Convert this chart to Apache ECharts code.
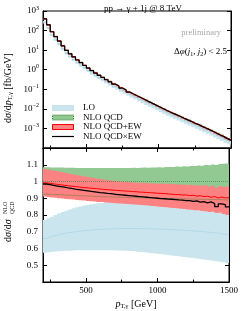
<!DOCTYPE html>
<html><head><meta charset="utf-8">
<script src="https://cdn.jsdelivr.net/npm/echarts@6/dist/echarts.min.js"></script>
<style>html,body{margin:0;padding:0;background:#fff}#c{width:241px;height:311px}</style>
</head><body><div id="c"></div>
<script>
// ---- data ----
const binEdges = [200,225,250,275,300,325,350,375,400,425,450,475,500,525,550,575,600,625,650,675,700,725,750,775,800,825,850,875,900,925,950,975,1000,1025,1050,1075,1100,1125,1150,1175,1200,1225,1250,1275,1300,1325,1350,1375,1400,1425,1450,1475,1500];
const nloQcd = [400,200,89,50,30,17,10,6.8,4.7,3.3,2.4,1.74,1.29,0.95,0.72,0.55,0.43,0.33,0.26,0.20,0.16,0.126,0.100,0.079,0.063,0.051,0.042,0.034,0.0275,0.0224,0.0182,0.0148,0.0120,0.0098,0.0079,0.0066,0.0055,0.0046,0.0037,0.0031,0.0026,0.0021,0.00178,0.00145,0.0012,0.00100,0.00081,0.00066,0.00054,0.00044,0.00035,0.00029];
// ratios to NLO QCD
const loMid = [.660,.668,.675,.681,.686,.690,.694,.697,.700,.703,.705,.707,.709,.711,.713,.714,.715,.716,.717,.718,.718,.719,.719,.720,.720,.719,.719,.718,.718,.717,.716,.716,.715,.714,.713,.712,.711,.710,.709,.708,.706,.705,.703,.702,.700,.698,.696,.694,.691,.688,.685,.682];
const loLow = [.575,.578,.580,.582,.584,.585,.586,.587,.588,.589,.589,.590,.590,.590,.590,.590,.590,.590,.589,.589,.588,.588,.587,.586,.585,.583,.581,.579,.577,.575,.572,.570,.567,.565,.562,.560,.557,.555,.552,.550,.547,.545,.542,.539,.536,.533,.530,.527,.524,.521,.518,.514];
const loHigh = [.770,.780,.790,.800,.810,.818,.826,.833,.840,.846,.851,.856,.860,.864,.867,.870,.872,.874,.876,.878,.879,.880,.881,.881,.882,.882,.882,.881,.881,.880,.879,.878,.876,.874,.872,.870,.868,.865,.862,.859,.856,.853,.850,.846,.842,.838,.834,.830,.826,.821,.816,.811];
const qcdHigh = [1.085,1.085,1.084,1.084,1.083,1.083,1.082,1.082,1.082,1.081,1.081,1.081,1.080,1.080,1.080,1.080,1.080,1.080,1.080,1.080,1.080,1.081,1.080,1.081,1.081,1.082,1.081,1.082,1.083,1.082,1.084,1.083,1.085,1.084,1.086,1.087,1.086,1.089,1.088,1.091,1.090,1.093,1.092,1.096,1.094,1.098,1.097,1.101,1.099,1.104,1.106,1.108];
const qcdLow = [.925,.924,.923,.922,.921,.920,.919,.918,.917,.916,.915,.914,.913,.912,.911,.910,.909,.909,.908,.907,.906,.906,.905,.904,.904,.903,.903,.902,.902,.901,.901,.900,.900,.899,.899,.898,.898,.897,.897,.896,.896,.895,.895,.894,.894,.893,.893,.892,.892,.891,.890,.889];
const ewHigh = [1.075,1.071,1.067,1.063,1.059,1.055,1.051,1.047,1.043,1.039,1.035,1.031,1.027,1.024,1.020,1.017,1.014,1.011,1.008,1.005,1.003,1.000,.998,.997,.995,.994,.993,.992,.991,.990,.989,.988,.987,.988,.985,.986,.983,.984,.981,.982,.978,.980,.976,.978,.974,.977,.970,.975,.962,.972,.968,.970];
const ewLow = [.910,.908,.905,.903,.900,.898,.896,.894,.892,.890,.888,.886,.884,.882,.880,.878,.877,.875,.873,.872,.870,.869,.867,.866,.864,.863,.861,.860,.858,.856,.854,.852,.850,.848,.846,.844,.842,.840,.838,.836,.833,.832,.829,.828,.824,.823,.818,.820,.812,.814,.806,.800];
const ewMid = [.992,.989,.986,.983,.980,.977,.975,.972,.970,.968,.965,.963,.961,.959,.957,.955,.953,.951,.950,.948,.946,.945,.943,.942,.940,.939,.937,.936,.934,.933,.932,.930,.929,.928,.926,.924,.922,.922,.919,.920,.916,.918,.913,.915,.910,.912,.906,.910,.902,.907,.902,.903];
const ewMult = [.985,.981,.977,.973,.969,.966,.962,.959,.955,.952,.949,.946,.943,.940,.937,.934,.932,.929,.927,.924,.922,.920,.918,.916,.914,.912,.910,.908,.906,.904,.902,.900,.898,.897,.895,.894,.892,.890,.889,.886,.886,.881,.884,.877,.880,.872,.878,.868,.850,.866,.862,.848];
const xMajorTicks = [500,1000,1500];
const xMinorTicks = [250,750,1250];
const legendNames = ['LO','NLO QCD','NLO QCD+EW','NLO QCD×EW'];

// ---- styling ----
const F = 'Liberation Serif';
const C = {lo:'#cbe5ef', loEdge:'#a6d3e3', loLine:'#8cc6da', qcd:'#92c992', qcdLine:'#2f7f2f', ew:'#ff8282', ewLine:'#ff0000', mult:'#000000'};

function stepData(vals){ const d = vals.map((v,i)=>[binEdges[i], v]); d.push([binEdges[vals.length], vals[vals.length-1]]); return d; }
function absOf(r){ return r.map((v,i)=>v*nloQcd[i]); }
function base(xi, yi){ return {type:'line', step:'end', symbol:'none', showSymbol:false, silent:true, animation:false, xAxisIndex:xi, yAxisIndex:yi}; }
function band(lo, hi, color, xi, yi){
  return {type:'custom', xAxisIndex:xi, yAxisIndex:yi, silent:true, animation:false, clip:true,
    encode:{x:[0,1], y:[2,3]},
    data: lo.map((v,i)=>[binEdges[i], binEdges[i+1], v, hi[i]]),
    renderItem: function(params, api){
      if (params.dataIndex !== 0) return null;
      const pts = [];
      for (let i=0;i<lo.length;i++){ pts.push(api.coord([binEdges[i], hi[i]])); pts.push(api.coord([binEdges[i+1], hi[i]])); }
      for (let i=lo.length-1;i>=0;i--){ pts.push(api.coord([binEdges[i+1], lo[i]])); pts.push(api.coord([binEdges[i], lo[i]])); }
      return {type:'polygon', shape:{points:pts}, style:{fill:color, stroke:null}};
    }
  };
}
function line(vals, color, width, type, xi, yi, op){
  return Object.assign(base(xi,yi), {data:stepData(vals), lineStyle:{color:color, width:width, type:type||'solid', opacity:op==null?1:op}});
}
const ones = nloQcd.map(v=>v/v);

const series = [
  band(absOf(loLow), absOf(loHigh), C.lo, 0, 0),
  line(absOf(loMid), C.loLine, 0.8, 'dotted', 0, 0),
  band(absOf(qcdLow), absOf(qcdHigh), C.qcd, 0, 0),
  band(absOf(ewLow), absOf(ewHigh), C.ew, 0, 0),
  line(absOf(ewMid), C.ewLine, 1, 'solid', 0, 0),
  line(absOf(ewMult), C.mult, 1.2, 'solid', 0, 0),
  band(loLow, loHigh, C.lo, 2, 2),
  line(loMid, C.loLine, 0.8, 'dotted', 2, 2),
  band(qcdLow, qcdHigh, C.qcd, 2, 2),
  band(ewLow, ewHigh, C.ew, 2, 2),
  line(ones, C.qcdLine, 1, 'dotted', 2, 2, 0.6),
  line(qcdLow, C.qcdLine, 0.9, 'solid', 2, 2, 0.45),
  line(ewMid, C.ewLine, 1, 'solid', 2, 2),
  line(ewMult, C.mult, 1.3, 'solid', 2, 2)
];

const tickStyle = {color:'#000', width:1};
function xAx(grid, pos, vals, len, labels){
  return {type:'value', gridIndex:grid, position:pos, min:200, max:1500,
    axisLine:{show:true, onZero:false, lineStyle:{color:'#000', width:1}},
    axisTick:{show:true, inside:true, length:len, customValues:vals, lineStyle:tickStyle},
    axisLabel:{show:!!labels, customValues:vals, fontFamily:F, fontSize:9, color:'#000', margin:4, formatter:function(v){return String(v);}},
    splitLine:{show:false}};
}
const supRich = {s:{fontSize:6, fontFamily:F, color:'#000', padding:[0,0,6,0]}, b:{fontSize:9, fontFamily:F, color:'#000'}};
function logLabel(v){ const n = Math.round(Math.log10(v)); if (n <= -4) return ''; return '{b|10}{s|' + (n<0 ? '−'+(-n) : n) + '}'; }
function ratioLabel(v){ if (v < 0.45 || v > 1.15) return ''; return Math.abs(v-1)<1e-9 ? '1' : v.toFixed(1); }

const xAxes = [
  xAx(0,'bottom',xMajorTicks,4,false), xAx(0,'bottom',xMinorTicks,2.5,false),
  Object.assign(xAx(1,'bottom',xMajorTicks,4,true), {name:'{i|p}{s|T,γ} [GeV]', nameLocation:'middle', nameGap:16,
     nameTextStyle:{fontFamily:F, fontSize:10, color:'#000', rich:{i:{fontFamily:F, fontSize:10, fontStyle:'italic', color:'#000'}, s:{fontFamily:F, fontSize:6.5, color:'#000', padding:[5,0,0,0]}}}}),
  xAx(1,'bottom',xMinorTicks,2.5,false),
  xAx(1,'top',xMajorTicks,4,false), xAx(1,'top',xMinorTicks,2.5,false)
];
const yAxes = [
  {type:'log', logBase:10, gridIndex:0, position:'left', min:1e-4, max:1e3,
   axisLine:{show:true, lineStyle:{color:'#000'}}, axisTick:{show:true, inside:true, length:4, lineStyle:tickStyle},
   axisLabel:{fontFamily:F, fontSize:9, color:'#000', margin:4, formatter:logLabel, rich:supRich}, splitLine:{show:false}, minorTick:{show:false}},
  {type:'log', logBase:10, gridIndex:0, position:'right', min:1e-4, max:1e3,
   axisLine:{show:true, lineStyle:{color:'#000'}}, axisTick:{show:true, inside:true, length:4, lineStyle:tickStyle},
   axisLabel:{show:false}, splitLine:{show:false}},
  {type:'value', gridIndex:1, position:'left', min:0.4, max:1.2, interval:0.1,
   axisLine:{show:true, lineStyle:{color:'#000'}}, axisTick:{show:true, inside:true, length:4, lineStyle:tickStyle},
   axisLabel:{fontFamily:F, fontSize:9, color:'#000', margin:5, formatter:ratioLabel}, splitLine:{show:false}},
  {type:'value', gridIndex:1, position:'right', min:0.4, max:1.2, interval:0.1,
   axisLine:{show:true, lineStyle:{color:'#000'}}, axisTick:{show:true, inside:true, length:4, lineStyle:tickStyle},
   axisLabel:{show:false}, splitLine:{show:false}}
];

// legend (drawn as graphic)
const legY = [108, 117.5, 127, 136.5];
const legSw = [
  {fill:C.lo, stroke:C.loEdge, dash:[1,1]},
  {fill:C.qcd, stroke:C.qcdLine, dash:[1,1]},
  {fill:C.ew, stroke:'#ff0000', dash:null},
  null
];
const legendEls = [];
legendNames.forEach((n,i)=>{
  const y = legY[i];
  if (legSw[i]) legendEls.push({type:'rect', shape:{x:52.5, y:y-2.5, width:21, height:5}, style:{fill:legSw[i].fill, stroke:legSw[i].stroke, lineWidth:1, lineDash:legSw[i].dash}});
  else legendEls.push({type:'line', shape:{x1:52, y1:y, x2:74, y2:y}, style:{stroke:'#000', lineWidth:1.2}});
  legendEls.push({type:'text', x:83, y:y, style:{text:n, fontFamily:F, fontSize:9, fill:'#000', verticalAlign:'middle', align:'left'}});
});

const chart = echarts.init(document.getElementById('c'), null, {renderer:'canvas'});
chart.setOption({
  animation:false,
  backgroundColor:'#fff',
  title:{text:'pp → γ + 1j @ 8 TeV', left:138, top:-1, textAlign:'center', textStyle:{fontFamily:F, fontSize:9, fontWeight:'normal', color:'#000'}},
  grid:[{left:43, right:10, top:11, height:137, show:true, borderColor:'#000', borderWidth:1, backgroundColor:'transparent'},
        {left:43, right:10, top:148, height:135, show:true, borderColor:'#000', borderWidth:1, backgroundColor:'transparent'}],
  xAxis:xAxes, yAxis:yAxes, series:series,
  graphic:[
    {type:'text', x:221, y:33, z:10, style:{text:'preliminary', fontFamily:F, fontSize:8.5, fill:'#a8a8a8', align:'right', verticalAlign:'middle'}},
    {type:'text', x:227, y:52, z:10, style:{text:'Δ{i|φ}({i|j}{s|1}, {i|j}{s|2}) < 2.5', fontFamily:F, fontSize:9, fill:'#000', align:'right', verticalAlign:'middle',
      rich:{i:{fontFamily:F, fontSize:9, fontStyle:'italic', fill:'#000'}, s:{fontFamily:F, fontSize:6, fill:'#000', padding:[4,0,0,0]}}}},
    {type:'text', x:8, y:88, rotation:Math.PI/2, z:10, style:{text:'d{i|σ}/d{i|p}{s|T,γ} [fb/GeV]', fontFamily:F, fontSize:10, fill:'#000', align:'center', verticalAlign:'middle',
      rich:{i:{fontFamily:F, fontSize:10, fontStyle:'italic', fill:'#000'}, s:{fontFamily:F, fontSize:6.5, fill:'#000', padding:[5,0,0,0]}}}},
    {type:'group', x:8, y:220, rotation:Math.PI/2, z:10, children:[
      {type:'text', x:-22, y:0, style:{text:'d{i|σ}/d{i|σ}', fontFamily:F, fontSize:10, fill:'#000', align:'left', verticalAlign:'middle', rich:{i:{fontFamily:F, fontSize:10, fontStyle:'italic', fill:'#000'}}}},
      {type:'text', x:6, y:-3, style:{text:'NLO', fontFamily:F, fontSize:6, fill:'#000', align:'left', verticalAlign:'middle'}},
      {type:'text', x:6, y:4, style:{text:'QCD', fontFamily:F, fontSize:6, fill:'#000', align:'left', verticalAlign:'middle'}}
    ]}
  ].concat(legendEls)
});
</script></body></html>
